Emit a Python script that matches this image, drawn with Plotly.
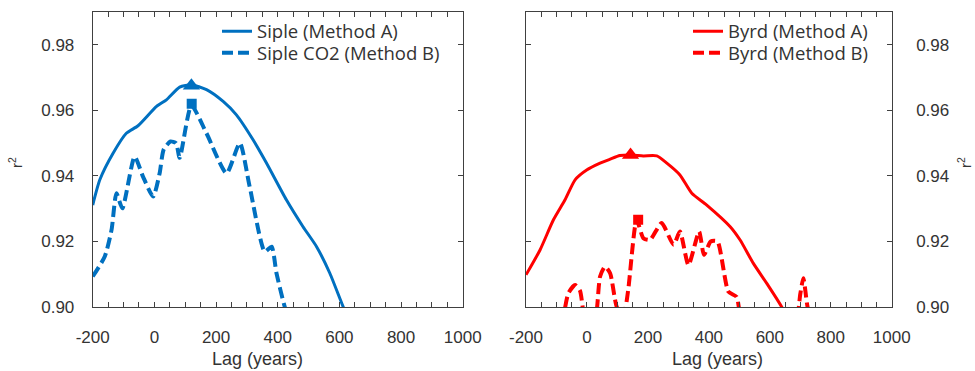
import plotly.graph_objects as go

# ---- data ----
siple_a_lag = [-200, -177, -134, -91, -53, 7, 39, 82, 120, 169, 223, 266, 320, 363, 428, 482, 526, 569, 612, 640]
siple_a_r2 = [0.9311, 0.9388, 0.9469, 0.9530, 0.9553, 0.9612, 0.9632, 0.9671, 0.9678, 0.9663, 0.9627,
              0.9586, 0.9510, 0.9440, 0.9327, 0.9245, 0.9184, 0.9103, 0.9001, 0.8940]

siple_b_lag = [-200, -161, -139, -123, -104, -64, -37, -4, 17, 30, 52, 70, 82, 120, 169, 234, 277, 309,
               358, 380, 396, 423, 450]
siple_b_r2 = [0.9093, 0.9154, 0.9235, 0.9347, 0.9301, 0.9459, 0.9398, 0.9337, 0.9408, 0.9480, 0.9505,
              0.9500, 0.9455, 0.9615, 0.9530, 0.9408, 0.9500, 0.9367, 0.9169, 0.9184, 0.9103, 0.9000, 0.8930]

byrd_a_lag = [-200, -154, -110, -72, -39, -1, 43, 76, 108, 143, 185, 229, 262, 305, 344, 393, 470, 502,
              546, 590, 639, 660]
byrd_a_r2 = [0.9098, 0.9174, 0.9266, 0.9327, 0.9388, 0.9418, 0.9439, 0.9451, 0.9462, 0.9464, 0.9461,
             0.9461, 0.9439, 0.9403, 0.9347, 0.9311, 0.9245, 0.9205, 0.9133, 0.9072, 0.9000, 0.8960]

byrd_b_lag = [-80, -61, -39, -23, -12, 0, 20, 32, 43, 59, 76, 98, 120, 135, 163, 185, 207, 245, 284, 305,
              333, 368, 384, 406, 428, 464, 491, 505, 550, 590, 620, 680, 700, 710, 722, 740]
byrd_b_r2 = [0.8950, 0.9042, 0.9067, 0.9050, 0.8985, 0.8930, 0.8950, 0.8990, 0.9093, 0.9123, 0.9103,
             0.9000, 0.8975, 0.9050, 0.9266, 0.9210, 0.9205, 0.9256, 0.9190, 0.9230, 0.9128, 0.9230,
             0.9159, 0.9200, 0.9200, 0.9047, 0.9031, 0.8970, 0.8930, 0.8995, 0.8940, 0.8930, 0.9040,
             0.9088, 0.9010, 0.8920]

siple_peak_a = ([120], [0.9675])
siple_peak_b = ([121], [0.9620])
byrd_peak_a = ([143], [0.9464])
byrd_peak_b = ([168], [0.9266])

x_ticks = [-200, 0, 200, 400, 600, 800, 1000]
x_tick_labels = ["-200", "0", "200", "400", "600", "800", "1000"]
y_ticks = [0.90, 0.92, 0.94, 0.96, 0.98]
y_tick_labels = ["0.90", "0.92", "0.94", "0.96", "0.98"]

BLUE = "#0070C0"
RED = "#FF0000"
AX = "#404040"
TXT = "#333333"
DASH = "11px,5px"

fig = go.Figure()

fig.add_trace(go.Scatter(x=siple_a_lag, y=siple_a_r2, mode="lines", name="Siple (Method A)",
                         line=dict(color=BLUE, width=3, shape="spline", smoothing=0.6),
                         xaxis="x", yaxis="y", legend="legend"))
fig.add_trace(go.Scatter(x=siple_b_lag, y=siple_b_r2, mode="lines", name="Siple CO2 (Method B)",
                         line=dict(color=BLUE, width=4, dash=DASH, shape="spline", smoothing=0.6),
                         xaxis="x", yaxis="y", legend="legend2"))
fig.add_trace(go.Scatter(x=siple_peak_a[0], y=siple_peak_a[1], mode="markers", showlegend=False,
                         marker=dict(symbol="triangle-up", size=15, color=BLUE), xaxis="x", yaxis="y"))
fig.add_trace(go.Scatter(x=siple_peak_b[0], y=siple_peak_b[1], mode="markers", showlegend=False,
                         marker=dict(symbol="square", size=10, color=BLUE), xaxis="x", yaxis="y"))

fig.add_trace(go.Scatter(x=byrd_a_lag, y=byrd_a_r2, mode="lines", name="Byrd (Method A)",
                         line=dict(color=RED, width=3, shape="spline", smoothing=0.6),
                         xaxis="x2", yaxis="y2", legend="legend3"))
fig.add_trace(go.Scatter(x=byrd_b_lag, y=byrd_b_r2, mode="lines", name="Byrd (Method B)",
                         line=dict(color=RED, width=4, dash=DASH, shape="spline", smoothing=0.6),
                         xaxis="x2", yaxis="y2", legend="legend4"))
fig.add_trace(go.Scatter(x=byrd_peak_a[0], y=byrd_peak_a[1], mode="markers", showlegend=False,
                         marker=dict(symbol="triangle-up", size=15, color=RED), xaxis="x2", yaxis="y2"))
fig.add_trace(go.Scatter(x=byrd_peak_b[0], y=byrd_peak_b[1], mode="markers", showlegend=False,
                         marker=dict(symbol="square", size=10, color=RED), xaxis="x2", yaxis="y2"))

FONT = "Liberation Sans, Arial, sans-serif"
tickfont = dict(family=FONT, size=17, color=TXT)

def xax(domain, anchor):
    return dict(domain=domain, anchor=anchor, range=[-200, 1000], tickvals=x_ticks, ticktext=x_tick_labels,
                ticks="inside", ticklen=5, tickcolor=AX, showline=True, linecolor=AX, linewidth=1,
                mirror="ticks", showgrid=False, zeroline=False, tickfont=tickfont,
                ticklabelstandoff=15, automargin=False,
                minor=dict(dtick=50, tick0=-200, ticks="inside", ticklen=5, tickcolor=AX, showgrid=False))

def yax(anchor, side):
    return dict(domain=[0.1725, 0.9677], anchor=anchor, side=side, range=[0.90, 0.99], tickvals=y_ticks,
                ticktext=y_tick_labels, ticks="inside", ticklen=5, tickcolor=AX, showline=True, linecolor=AX,
                linewidth=1, mirror="ticks", showgrid=False, zeroline=False, tickfont=tickfont,
                ticklabelstandoff=14 if side == "left" else 20, automargin=False)

legfont = dict(family="Open Sans, sans-serif", size=18.5, color=TXT)

def leg(xpx, ypx):
    return dict(x=xpx / 975, y=1 - ypx / 371, xanchor="left", yanchor="middle", font=legfont,
                bgcolor="rgba(0,0,0,0)", borderwidth=0)

def ann(text, xpx, ypx, size, angle=0):
    return dict(text=text, x=xpx / 975, y=1 - ypx / 371, xref="paper", yref="paper",
                xanchor="center", yanchor="middle", showarrow=False, textangle=angle,
                font=dict(family=FONT, size=size, color=TXT))

fig.update_layout(
    width=975, height=371,
    margin=dict(l=0, r=0, t=0, b=0),
    paper_bgcolor="white", plot_bgcolor="white",
    xaxis=xax([0.0951, 0.4746], "y"),
    yaxis=yax("x", "left"),
    xaxis2=xax([0.5395, 0.9146], "y2"),
    yaxis2=yax("x2", "right"),
    legend=leg(217, 31.7),
    legend2=leg(217, 53.3),
    legend3=leg(688, 31.7),
    legend4=leg(688, 53.3),
    annotations=[
        ann("Lag (years)", 257, 359, 18),
        ann("Lag (years)", 717, 359, 18),
        ann("r<sup>2</sup>", 15, 163, 15, -90),
        ann("r<sup>2</sup>", 964, 163, 15, -90),
    ],
)

fig.write_html("out.html", config={"displayModeBar": False},
               post_script="document.body.style.margin='0';document.body.style.overflow='hidden';")
